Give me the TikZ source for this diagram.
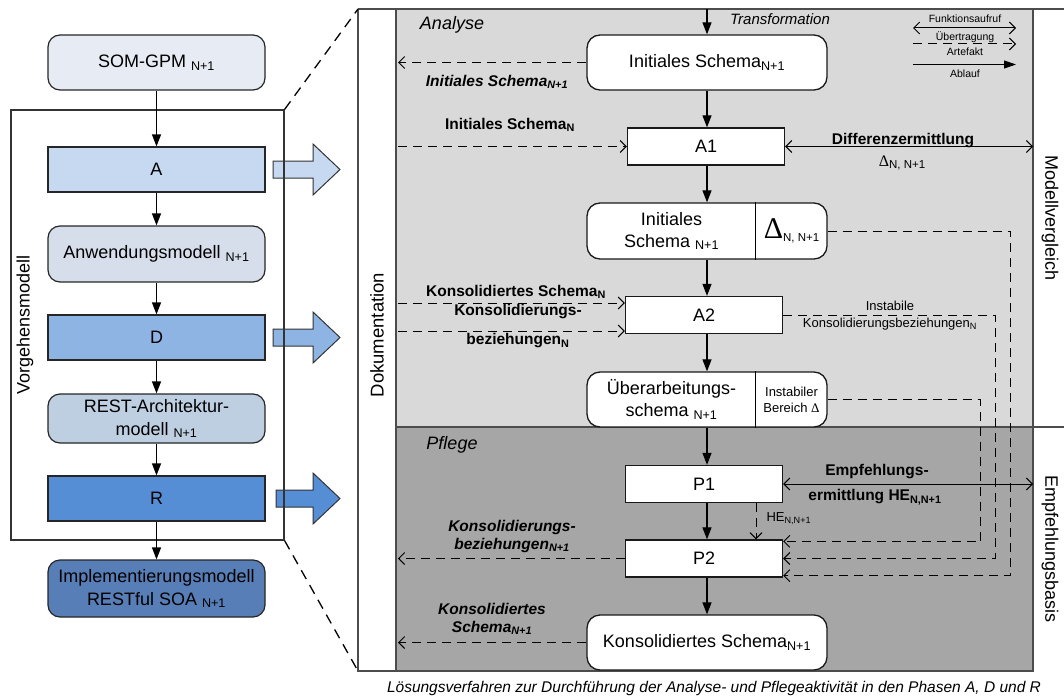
\documentclass[tikz,border=0pt]{standalone}
\usepackage{fontspec}
\setmainfont{Liberation Sans}
\newfontfamily\deltafont{Liberation Serif}
\usepackage{xcolor}
\usepackage{tikz}
\usetikzlibrary{positioning,calc,arrows.meta}

\definecolor{somfill}{HTML}{E7ECF4}
\definecolor{afill}{HTML}{C6D9F1}
\definecolor{anwfill}{HTML}{D5DEEA}
\definecolor{dfill}{HTML}{8EB4E3}
\definecolor{restfill}{HTML}{BFCFE2}
\definecolor{rfill}{HTML}{558ED5}
\definecolor{implfill}{HTML}{577EB6}
\definecolor{anafill}{HTML}{D9D9D9}
\definecolor{pflfill}{HTML}{A6A6A6}

\newcommand{\sbs}[1]{\textsubscript{#1}}
\newcommand{\dlt}{{\deltafont Δ}}

\tikzset{
  lbox/.style={draw=black!85, line width=1.2pt, minimum width=217, minimum height=45,
    align=center, font=\fontsize{18}{23}\selectfont},
  lround/.style={lbox, rounded corners=12pt},
  rbox/.style={draw=black!90, fill=white, line width=1.3pt, minimum width=157, minimum height=37,
    align=center, font=\fontsize{18}{23}\selectfont},
  rround/.style={rbox, rounded corners=13pt, minimum width=240, minimum height=55},
  flow/.style={-{Triangle[length=12pt,width=9pt]}, line width=1.2pt},
  artefact/.style={dash pattern=on 9pt off 6pt, -{Straight Barb[length=6pt,width=12pt]}, line width=1pt},
  call/.style={{Straight Barb[length=6pt,width=12pt]}-{Straight Barb[length=6pt,width=12pt]}, line width=1pt},
  panel/.style={draw=black!70, line width=1.2pt},
  blockarrow/.style={draw=black!80, line width=1pt},
  boldlbl/.style={font=\fontsize{15.5}{18}\selectfont\bfseries, align=center},
  italbl/.style={font=\fontsize{15.5}{18}\selectfont\bfseries\itshape, align=center},
  smalllbl/.style={font=\fontsize{13}{16}\selectfont, align=center},
  leglbl/.style={font=\fontsize{10.5}{12}\selectfont},
}

\begin{document}
\begin{tikzpicture}[x=1pt, y=-1pt, font=\fontsize{18}{22}\selectfont]
  \useasboundingbox (0,0) rectangle (1064,698);

  % Block arrows into the detail panel
  \foreach \yy/\cc/\xs in {169.5/afill/273, 337.5/dfill/273, 498.5/rfill/276}
    \draw[blockarrow, fill=\cc] (\xs,\yy-8.5) -- (313,\yy-8.5) -- (313,\yy-25.5) -- (340,\yy)
      -- (313,\yy+25.5) -- (313,\yy+8.5) -- (\xs,\yy+8.5) -- cycle;

  % Vorgehensmodell
  \node[draw=black!80, line width=1.2pt, minimum width=273, minimum height=430] (vm) at (147.5,325) {};
  \node[rotate=90, font=\fontsize{18}{22}\selectfont] (vmlbl) at (25,325) {Vorgehensmodell};

  \node[lround, fill=somfill, minimum height=55] (som) at (156.5,62.5) {SOM-GPM \sbs{N+1}};
  \node[lbox, fill=afill] (pa) at (156.5,169.5) {A};
  \node[lround, fill=anwfill, minimum height=56] (anw) at (156.5,254) {Anwendungsmodell \sbs{N+1}};
  \node[lbox, fill=dfill] (pd) at (156.5,337.5) {D};
  \node[lround, fill=restfill, minimum height=49] (rest) at (156.5,418.5) {REST-Architektur-\\modell \sbs{N+1}};
  \node[lbox, fill=rfill] (pr) at (156.5,498.5) {R};
  \node[lround, fill=implfill, minimum height=57] (impl) at (156.5,588.5) {Implementierungsmodell\\RESTful SOA \sbs{N+1}};

  \foreach \a/\b in {som/pa, pa/anw, anw/pd, pd/rest, rest/pr, pr/impl}
    \draw[flow] (\a) -- (\b);

  % Panel backgrounds and frame
  \fill[anafill] (396,9) rectangle (1033,427);
  \fill[pflfill] (396,427) rectangle (1033,671);
  \coordinate (ptl) at (358,9);
  \coordinate (pbl) at (358,671);
  \draw[panel] (ptl) -- (1064,9);
  \draw[panel] (ptl) -- (pbl) -- (1033,671) -- (1033,9);
  \draw[panel] (396,9) -- (396,671);
  \draw[panel] (396,427) -- (1064,427);

  % Zoom lines
  \draw[line width=1.3pt, dash pattern=on 10pt off 7pt] (vm.north east) -- (ptl);
  \draw[line width=1.3pt, dash pattern=on 10pt off 7pt] (vm.south east) -- (pbl);

  % Column and phase labels
  \node[rotate=90, font=\fontsize{18.5}{22}\selectfont] (doku) at (377,335) {Dokumentation};
  \node[rotate=-90, font=\fontsize{18}{22}\selectfont] (mvgl) at (1050,218) {Modellvergleich};
  \node[rotate=-90, font=\fontsize{18}{22}\selectfont] (empb) at (1050,549) {Empfehlungsbasis};
  \node[font=\fontsize{18}{22}\selectfont\itshape] (ana) at (452,25) {Analyse};
  \node[font=\fontsize{18}{22}\selectfont\itshape] (pfl) at (452,445) {Pflege};

  % Main chain
  \coordinate (trans) at (707,9);
  \node[font=\fontsize{15}{18}\selectfont\itshape] (translbl) at (780,19) {Transformation};
  \node[rround] (isn) at (707,62.5) {Initiales Schema\sbs{N+1}};
  \node[rbox] (a1) at (706,146.5) {A1};
  \node[rround, minimum height=56] (isd) at (707,231) {};
  \draw[line width=1.2pt] ([xshift=169pt]isd.north west) -- ([xshift=169pt]isd.south west);
  \node[align=center] (isdl) at (671.5,231) {Initiales\\Schema \sbs{N+1}};
  \node (isdr) at (791.5,231) {{\fontsize{30}{30}\selectfont\dlt}\raisebox{-3pt}{\fontsize{11.5}{13}\selectfont N, N+1}};
  \node[rbox] (a2) at (704,315) {A2};
  \node[rround] (ueb) at (707,399.5) {};
  \draw[line width=1.2pt] ([xshift=169pt]ueb.north west) -- ([xshift=169pt]ueb.south west);
  \node[align=center] (uebl) at (671.5,399.5) {Überarbeitungs-\\schema \sbs{N+1}};
  \node[smalllbl] (uebr) at (791.5,399.5) {Instabiler\\Bereich \dlt};
  \node[rbox] (p1) at (704,484) {P1};
  \node[rbox] (p2) at (704,558.5) {P2};
  \node[rround] (ks) at (707,642.5) {Konsolidiertes Schema\sbs{N+1}};

  \draw[flow] (trans) -- (isn.north);
  \foreach \a/\b in {isn/a1, a1/isd, isd/a2, a2/ueb, ueb/p1, p1/p2, p2/ks}
    \draw[flow] (isn.south |- \a.south) -- (isn.south |- \b.north);

  % Artefacts from and to the documentation
  \coordinate (doc) at (398,0);
  \draw[artefact] (isn.west) -- (isn.west -| doc);
  \node[italbl] (l1) at (497,82) {Initiales Schema\sbs{N+1}};
  \draw[artefact] (a1.west -| doc) -- (a1.west);
  \node[boldlbl] (l2) at (510,125) {Initiales Schema\sbs{N}};
  \draw[artefact] ([yshift=12pt]a2.west -| doc) -- ([yshift=12pt]a2.west);
  \node[boldlbl] (l3) at (516,292) {Konsolidiertes Schema\sbs{N}};
  \draw[artefact] ([yshift=-16pt]a2.west -| doc) -- ([yshift=-16pt]a2.west);
  \node[boldlbl] (l4a) at (518,312) {Konsolidierungs-};
  \node[boldlbl] (l4b) at (518,341) {beziehungen\sbs{N}};
  \draw[artefact] (p2.west) -- (p2.west -| doc);
  \node[italbl] (l5) at (512,536) {Konsolidierungs-\\beziehungen\sbs{N+1}};
  \draw[artefact] (ks.west) -- (ks.west -| doc);
  \node[italbl] (l6) at (492,619) {Konsolidiertes\\Schema\sbs{N+1}};

  % Function calls to the right column
  \coordinate (rcol) at (1033,0);
  \draw[call] (a1.east) -- (a1.east -| rcol);
  \node[boldlbl] (l7) at (903,141) {Differenzermittlung};
  \node (l8) at (902,163) {{\fontsize{16}{18}\selectfont\dlt}\raisebox{-2pt}{\fontsize{11.5}{13}\selectfont N, N+1}};
  \draw[call] (p1.east) -- (p1.east -| rcol);
  \node[boldlbl] (l9a) at (877,472) {Empfehlungs-};
  \node[boldlbl] (l9b) at (875,497) {ermittlung HE\sbs{N,N+1}};

  % Artefacts into P2
  \draw[artefact] (isd.east) -- ++(183,0) |- ([yshift=2pt]p2.south east);
  \draw[artefact] (a2.east) -- ++(212,0) |- (p2.east);
  \node[smalllbl] (l10a) at (890,306) {Instabile};
  \node[smalllbl] (l10b) at (890,324) {Konsolidierungsbeziehungen\sbs{N}};
  \draw[artefact] (ueb.east) -- ++(153,0) |- ([yshift=-2pt]p2.north east);
  \draw[artefact] ([xshift=52pt]p1.south) -- ([xshift=52pt]p2.north);
  \node[smalllbl, anchor=west] (l11) at (763,519) {HE\sbs{N,N+1}};

  % Legend
  \coordinate (lg1) at (913,28);
  \coordinate (lg2) at (913,44);
  \coordinate (lg3) at (913,64.5);
  \draw[call] (lg1) -- ++(103,0);
  \node[leglbl] (lgt1) at (965,19) {Funktionsaufruf};
  \draw[artefact] (lg2) -- ++(103,0);
  \node[leglbl] (lgt2) at (965,37) {Übertragung};
  \node[leglbl] (lgt3) at (965,52) {Artefakt};
  \draw[line width=1pt, -{Triangle[length=12pt,width=8pt]}] (lg3) -- ++(103,0);
  \node[leglbl] (lgt4) at (965,74) {Ablauf};

  % Caption
  \node[font=\fontsize{15.5}{18}\selectfont\itshape] (caption) at (714,688)
    {Lösungsverfahren zur Durchführung der Analyse- und Pflegeaktivität in den Phasen A, D und R};
\end{tikzpicture}
\end{document}
